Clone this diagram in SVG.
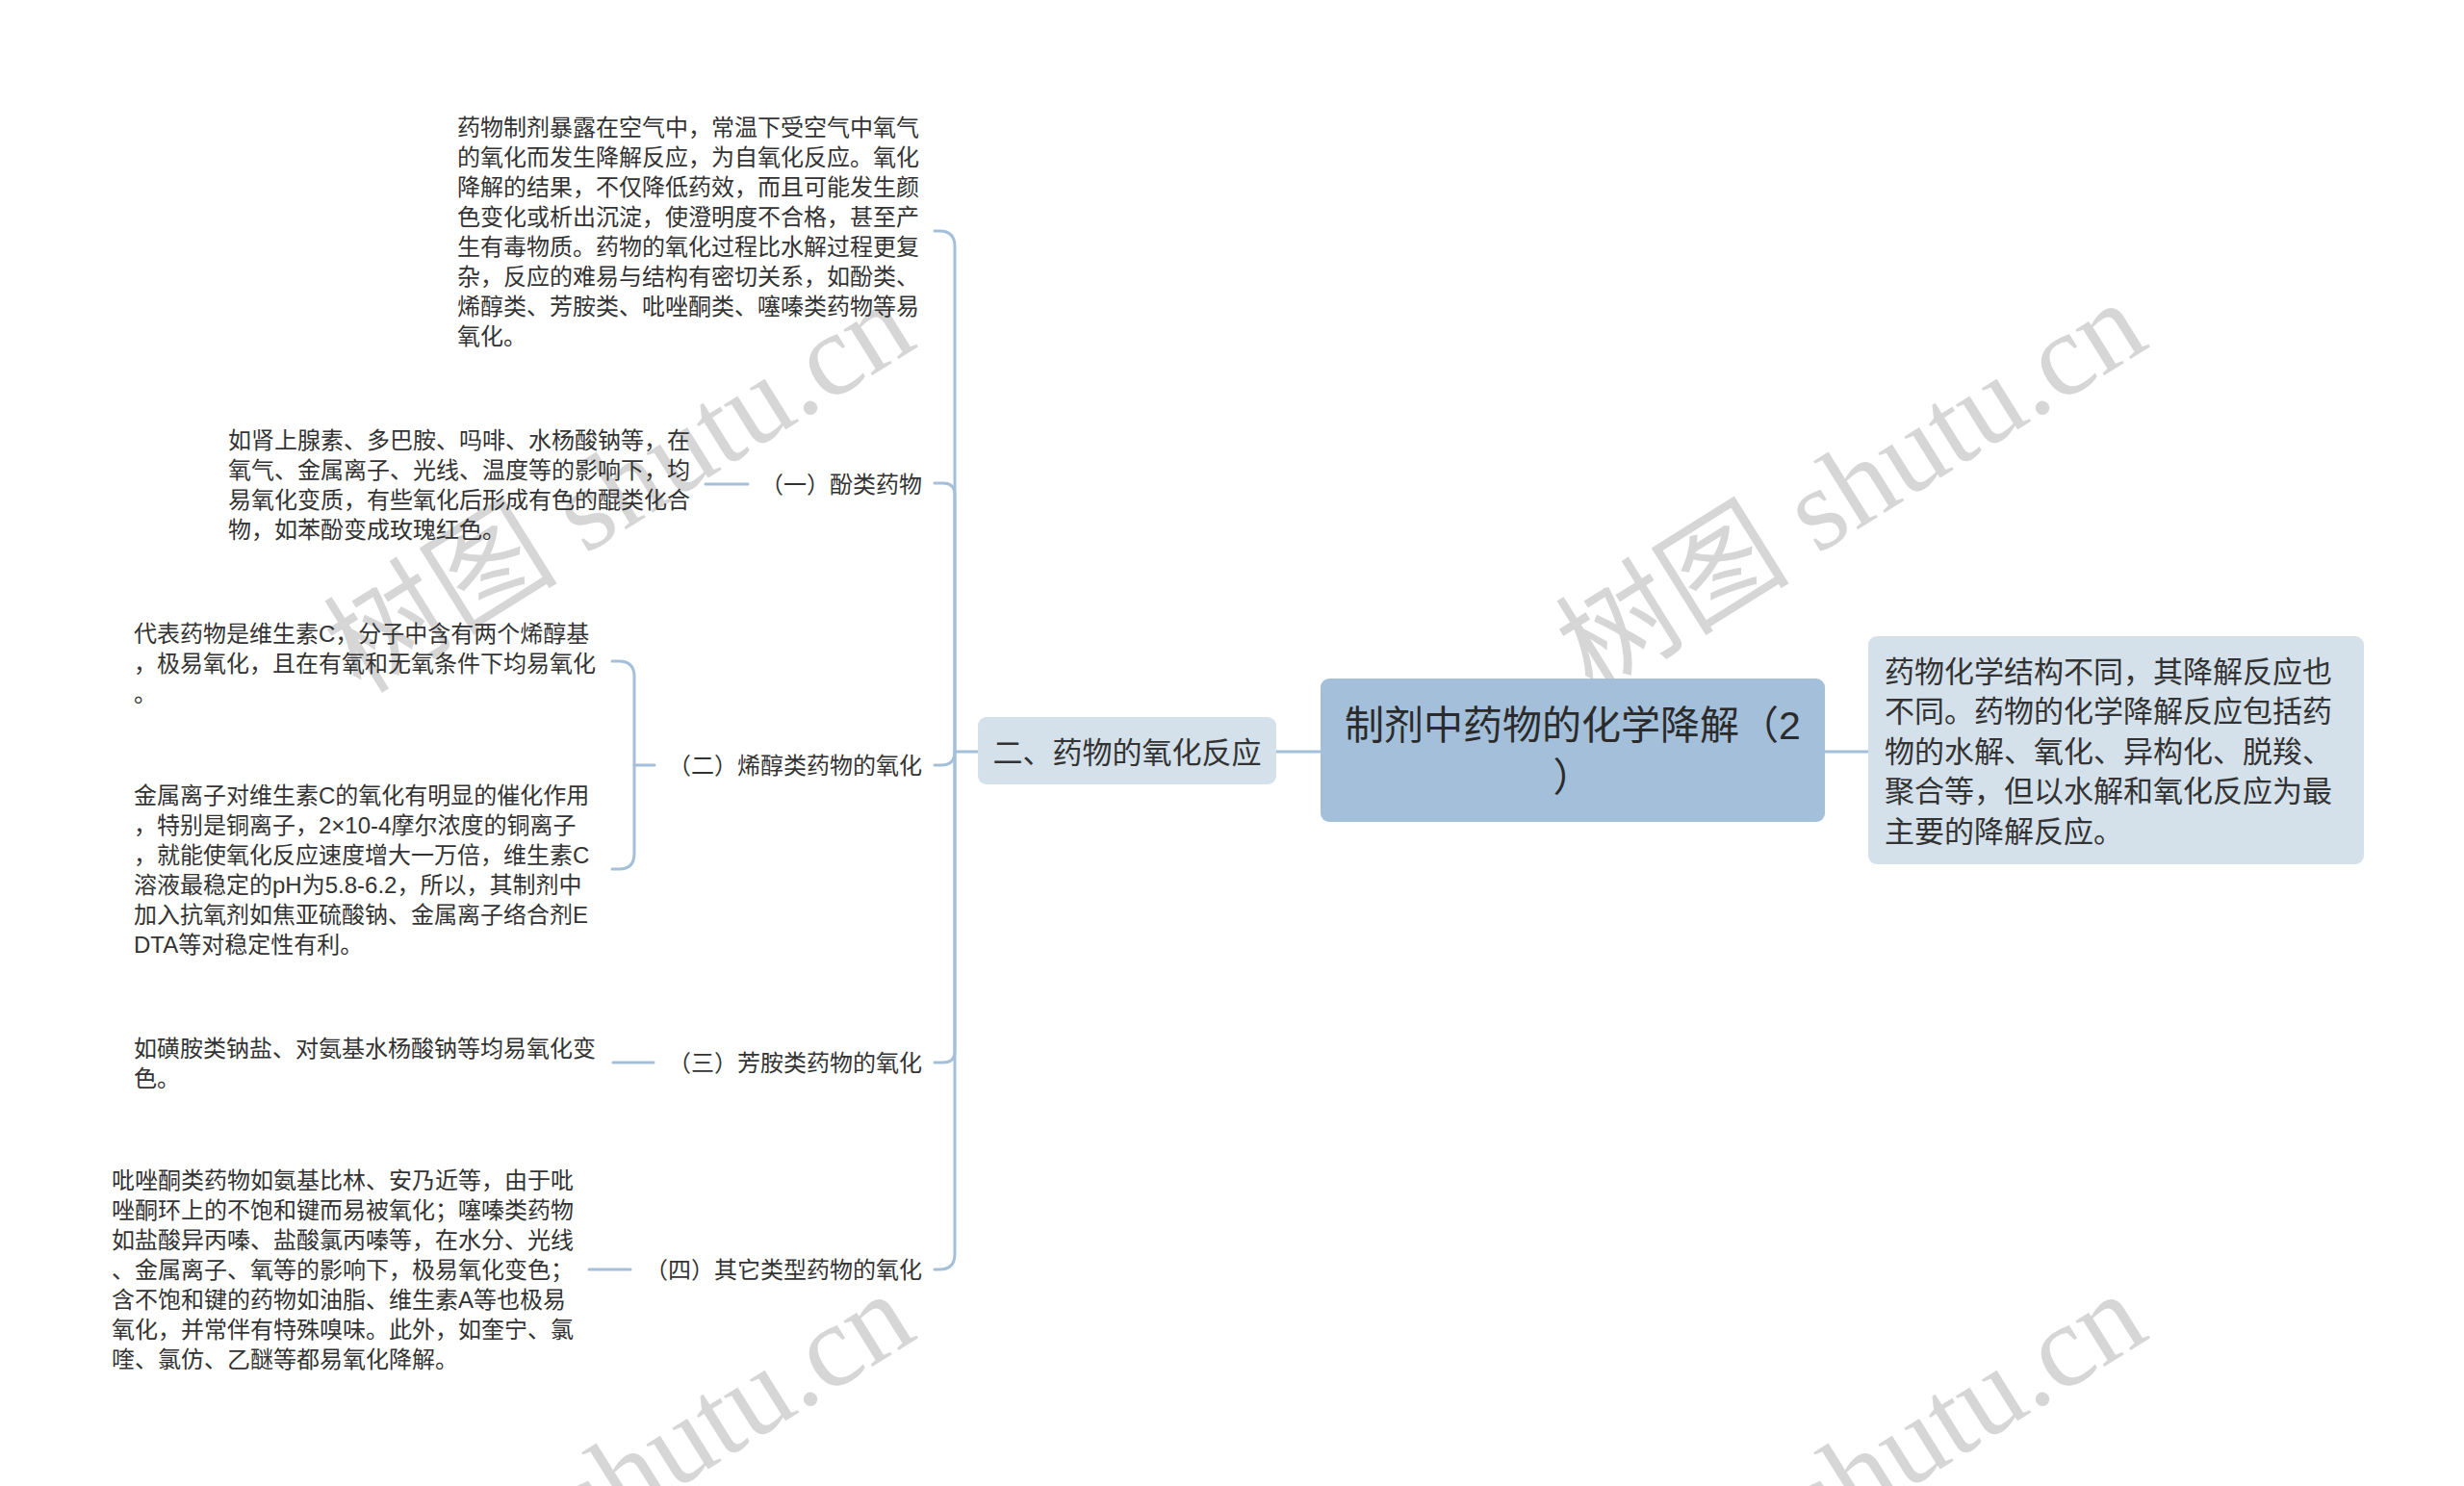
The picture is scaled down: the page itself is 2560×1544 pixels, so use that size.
<svg xmlns="http://www.w3.org/2000/svg" width="2560" height="1544" viewBox="0 0 2560 1544">
<style>
.t{font-family:"Liberation Sans","Noto Sans CJK SC",sans-serif;fill:#333333;}
.s{font-size:24px;}
.m{font-size:31px;}
.c{font-size:41px;fill:#2b2b2b;}
.wm{font-family:"Liberation Serif","Noto Sans CJK SC",serif;font-size:122px;fill:#d6d6d6;}
.ln{fill:none;stroke:#a3bfd9;stroke-width:3;stroke-linecap:round;}
</style>
<rect x="0" y="0" width="2560" height="1544" fill="#ffffff"/>
<g id="watermarks">
<text class="wm" transform="translate(375,722) rotate(-32)">树图 shutu.cn</text>
<text class="wm" transform="translate(1655,722) rotate(-32)">树图 shutu.cn</text>
<text class="wm" transform="translate(375,1752) rotate(-32)">树图 shutu.cn</text>
<text class="wm" transform="translate(1655,1752) rotate(-32)">树图 shutu.cn</text>
</g>
<g id="connectors" class="ln">
<path d="M1326 781 H1372"/>
<path d="M1896 781 H1941"/>
<path d="M1016 781 H992"/>
<path d="M971 240 H976 Q992 240 992 256 V781"/>
<path d="M971 502 H980 Q992 502 992 514 V781"/>
<path d="M971 795 H978 Q992 795 992 781"/>
<path d="M971 1104 H980 Q992 1104 992 1092 V781"/>
<path d="M971 1319 H976 Q992 1319 992 1303 V781"/>
<path d="M733 503 H777"/>
<path d="M636 687 H643 Q659 687 659 703 V887 Q659 903 643 903 H636"/>
<path d="M659 795 H680"/>
<path d="M637 1104 H679"/>
<path d="M612 1319 H655"/>
</g>
<g id="root">
<rect x="1372" y="705" width="524" height="149" rx="9" fill="#a3bfd9"/>
<text class="t c" x="1634" y="768" text-anchor="middle">制剂中药物的化学降解（2</text>
<text class="t c" x="1634" y="822" text-anchor="middle">）</text>
</g>
<g id="summary">
<rect x="1941" y="661" width="515" height="237" rx="9" fill="#d4e0ea"/>
<text class="t m" x="1958" y="709">药物化学结构不同，其降解反应也</text>
<text class="t m" x="1958" y="750">不同。药物的化学降解反应包括药</text>
<text class="t m" x="1958" y="792">物的水解、氧化、异构化、脱羧、</text>
<text class="t m" x="1958" y="833">聚合等，但以水解和氧化反应为最</text>
<text class="t m" x="1958" y="875">主要的降解反应。</text>
</g>
<g id="oxidation">
<rect x="1016" y="745" width="310" height="70" rx="9" fill="#d4e0ea"/>
<text class="t m" x="1171" y="793" text-anchor="middle">二、药物的氧化反应</text>
</g>
<g id="intro">
<text class="t s" x="475" y="141">药物制剂暴露在空气中，常温下受空气中氧气</text>
<text class="t s" x="475" y="172">的氧化而发生降解反应，为自氧化反应。氧化</text>
<text class="t s" x="475" y="203">降解的结果，不仅降低药效，而且可能发生颜</text>
<text class="t s" x="475" y="234">色变化或析出沉淀，使澄明度不合格，甚至产</text>
<text class="t s" x="475" y="265">生有毒物质。药物的氧化过程比水解过程更复</text>
<text class="t s" x="475" y="296">杂，反应的难易与结构有密切关系，如酚类、</text>
<text class="t s" x="475" y="327">烯醇类、芳胺类、吡唑酮类、噻嗪类药物等易</text>
<text class="t s" x="475" y="358">氧化。</text>
</g>
<g id="phenol">
<text class="t s" x="958" y="512" text-anchor="end">（一）酚类药物</text>
</g>
<g id="phenol-detail">
<text class="t s" x="237" y="466">如肾上腺素、多巴胺、吗啡、水杨酸钠等，在</text>
<text class="t s" x="237" y="497">氧气、金属离子、光线、温度等的影响下，均</text>
<text class="t s" x="237" y="528">易氧化变质，有些氧化后形成有色的醌类化合</text>
<text class="t s" x="237" y="559">物，如苯酚变成玫瑰红色。</text>
</g>
<g id="enol">
<text class="t s" x="958" y="804" text-anchor="end">（二）烯醇类药物的氧化</text>
</g>
<g id="enol-detail-1">
<text class="t s" x="139" y="667">代表药物是维生素C，分子中含有两个烯醇基</text>
<text class="t s" x="139" y="698">，极易氧化，且在有氧和无氧条件下均易氧化</text>
<text class="t s" x="139" y="729">。</text>
</g>
<g id="enol-detail-2">
<text class="t s" x="139" y="835">金属离子对维生素C的氧化有明显的催化作用</text>
<text class="t s" x="139" y="866">，特别是铜离子，2×10-4摩尔浓度的铜离子</text>
<text class="t s" x="139" y="897">，就能使氧化反应速度增大一万倍，维生素C</text>
<text class="t s" x="139" y="928">溶液最稳定的pH为5.8-6.2，所以，其制剂中</text>
<text class="t s" x="139" y="959">加入抗氧剂如焦亚硫酸钠、金属离子络合剂E</text>
<text class="t s" x="139" y="990">DTA等对稳定性有利。</text>
</g>
<g id="amine">
<text class="t s" x="958" y="1113" text-anchor="end">（三）芳胺类药物的氧化</text>
</g>
<g id="amine-detail">
<text class="t s" x="139" y="1098">如磺胺类钠盐、对氨基水杨酸钠等均易氧化变</text>
<text class="t s" x="139" y="1129">色。</text>
</g>
<g id="other">
<text class="t s" x="958" y="1328" text-anchor="end">（四）其它类型药物的氧化</text>
</g>
<g id="other-detail">
<text class="t s" x="116" y="1235">吡唑酮类药物如氨基比林、安乃近等，由于吡</text>
<text class="t s" x="116" y="1266">唑酮环上的不饱和键而易被氧化；噻嗪类药物</text>
<text class="t s" x="116" y="1297">如盐酸异丙嗪、盐酸氯丙嗪等，在水分、光线</text>
<text class="t s" x="116" y="1328">、金属离子、氧等的影响下，极易氧化变色；</text>
<text class="t s" x="116" y="1359">含不饱和键的药物如油脂、维生素A等也极易</text>
<text class="t s" x="116" y="1390">氧化，并常伴有特殊嗅味。此外，如奎宁、氯</text>
<text class="t s" x="116" y="1421">喹、氯仿、乙醚等都易氧化降解。</text>
</g>
</svg>
